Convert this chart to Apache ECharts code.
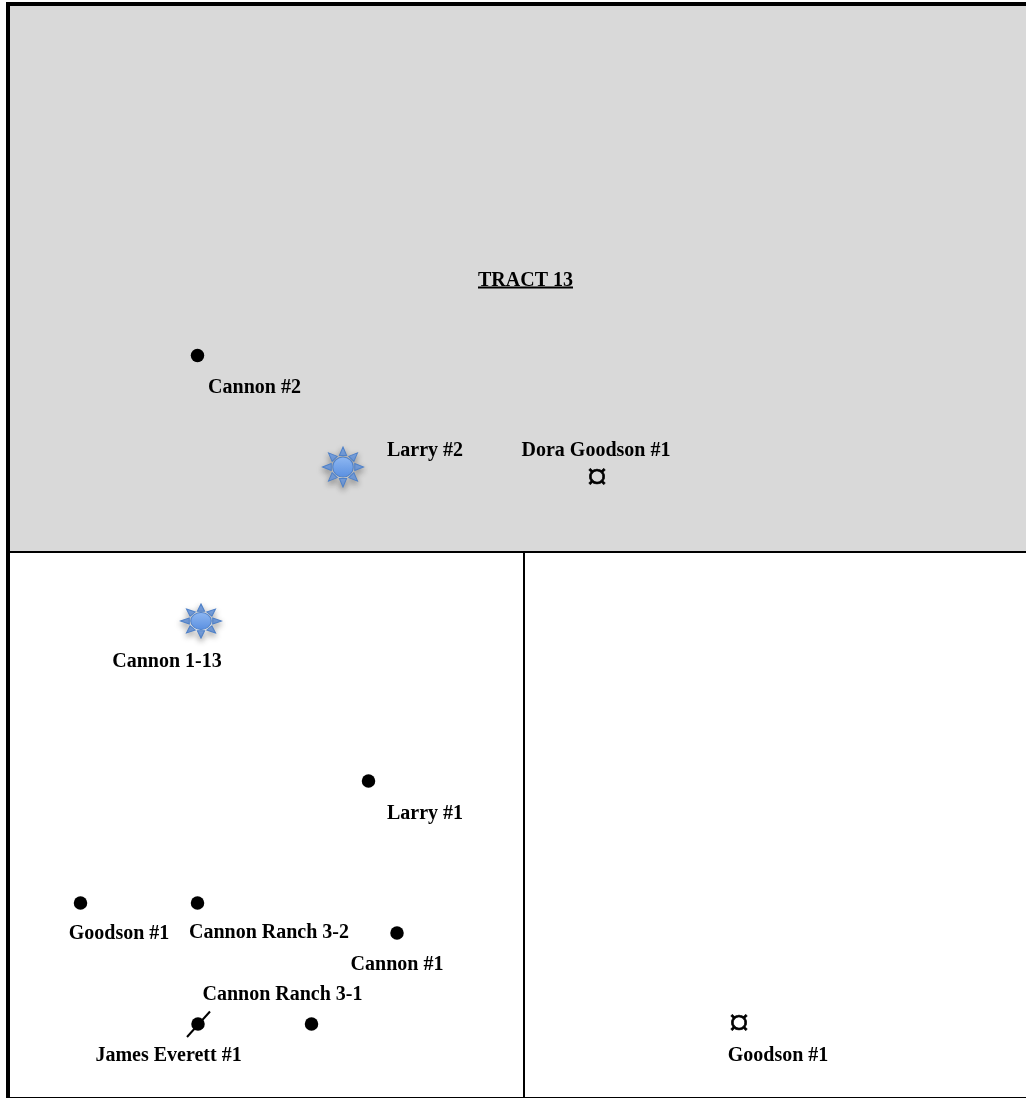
<!DOCTYPE html>
<html>
<head>
<meta charset="utf-8">
<style>html,body{margin:0;padding:0;background:#fff}#c{width:1026px;height:1098px}</style>
<script src="https://cdn.jsdelivr.net/npm/echarts@6/dist/echarts.min.js"></script>
</head>
<body>
<div id="c"></div>
<script>
var mapWidth = 1026, mapHeight = 1098;
var tractArea = [[8, 4], [1026, 551]];
var boundaries = [
  [[8, 2], [8, 1098]],
  [[6, 4], [1026, 4]],
  [[10, 552], [1026, 552]],
  [[524, 552], [524, 1097]],
  [[6, 1097.5], [1026, 1097.5]]
];
var boundaryWidths = [4, 4, 2, 2, 1];
var titleRule = [[478, 287.5], [573, 287.5]];
var plugStroke = [[187, 1037], [210, 1011.5]];
var oilWells = [[197.5, 355.5], [368.5, 781], [80.5, 903], [197.5, 903], [397, 933], [198, 1024], [311.5, 1024]];
var gasWells = [[343, 467], [201, 621]];
var gasWellSizes = [[41, 40], [41, 34]];
var locations = [[597, 479.5], [739, 1025.5]];
var wellLabels = [
  ['Cannon #2', 254.5, 388],
  ['Larry #2', 425, 451],
  ['Dora Goodson #1', 596, 451],
  ['Cannon 1-13', 167, 662],
  ['Larry #1', 425, 814],
  ['Goodson #1', 119, 934],
  ['Cannon Ranch 3-2', 269, 933],
  ['Cannon #1', 397, 965],
  ['Cannon Ranch 3-1', 282.5, 995],
  ['James Everett #1', 168.5, 1056],
  ['Goodson #1', 778, 1056]
];
var titleLabel = [['TRACT 13', 525.5, 281]];

function sunRays() {
  var p = '', n = 8, R = 20, r = 12, h = 0.3;
  for (var i = 0; i < n; i++) {
    var a = i * Math.PI * 2 / n - Math.PI / 2;
    var pt = function (rad, ang) { return (20 + rad * Math.cos(ang)).toFixed(2) + ' ' + (20 + rad * Math.sin(ang)).toFixed(2); };
    p += 'M' + pt(R, a) + 'L' + pt(r, a + h) + 'L' + pt(r, a - h) + 'Z';
  }
  return 'path://' + p;
}
var FONT = '"Liberation Serif", "Times New Roman", serif';

function textSeries(rows) {
  return {
    type: 'scatter', symbolSize: 0, silent: true, z: 6,
    itemStyle: { opacity: 1 },
    data: rows.map(function (r) { return { name: r[0], value: [r[1], r[2]] }; }),
    label: { show: true, position: 'inside', formatter: '{b}', color: '#000', opacity: 1, fontFamily: FONT, fontWeight: 'bold', fontSize: 20 }
  };
}
function strokeSeries(pts, w, z) {
  return {
    type: 'line', data: pts, symbol: 'none', silent: true, z: z,
    lineStyle: { color: '#000', width: w, cap: 'butt', opacity: 1 }
  };
}

var series = [];
series.push({
  type: 'line', data: [], silent: true, z: 1,
  markArea: { silent: true, itemStyle: { color: '#d9d9d9', opacity: 1 },
    data: [[{ coord: tractArea[0] }, { coord: tractArea[1] }]] }
});
boundaries.forEach(function (b, i) { series.push(strokeSeries(b, boundaryWidths[i], 3)); });
series.push(strokeSeries(titleRule, 2, 6));
series.push(strokeSeries(plugStroke, 2, 5));
series.push({
  type: 'scatter', data: oilWells, symbol: 'circle', symbolSize: 13.5, silent: true, z: 5,
  itemStyle: { color: '#000', opacity: 1 }
});
series.push({
  type: 'scatter', symbol: sunRays(), silent: true, z: 4,
  data: gasWells.map(function (v, i) { return { value: v, symbolSize: gasWellSizes[i] }; }),
  itemStyle: {
    color: '#7aa5e6', borderColor: '#4f81c8', borderWidth: 1, opacity: 1,
    shadowBlur: 6, shadowOffsetY: 3, shadowColor: 'rgba(0,0,0,0.4)'
  }
});
series.push({
  type: 'scatter', symbol: 'circle', silent: true, z: 5,
  data: gasWells.map(function (v, i) {
    return { value: v, symbolSize: [gasWellSizes[i][0] * 0.5, gasWellSizes[i][1] * 0.5] };
  }),
  itemStyle: {
    borderColor: '#4f81c8', borderWidth: 1, opacity: 1,
    color: { type: 'linear', x: 0, y: 0, x2: 0, y2: 1, colorStops: [{ offset: 0, color: '#8fb8f2' }, { offset: 1, color: '#5a8fe0' }] }
  }
});
series.push({
  type: 'scatter', data: locations, symbolSize: 0, silent: true, z: 5,
  itemStyle: { opacity: 1 },
  label: { show: true, position: 'inside', formatter: '¤', color: '#000', opacity: 1, fontFamily: FONT, fontWeight: 'normal', fontSize: 40, textBorderColor: '#000', textBorderWidth: 0.7 }
});
series.push(textSeries(wellLabels));
series.push(textSeries(titleLabel));

var chart = echarts.init(document.getElementById('c'), null, { renderer: 'canvas', width: mapWidth, height: mapHeight });
chart.setOption({
  animation: false,
  backgroundColor: '#fff',
  grid: { left: 0, right: 0, top: 0, bottom: 0 },
  xAxis: { type: 'value', min: 0, max: mapWidth, show: false },
  yAxis: { type: 'value', min: 0, max: mapHeight, inverse: true, show: false },
  series: series
});
</script>
</body>
</html>
